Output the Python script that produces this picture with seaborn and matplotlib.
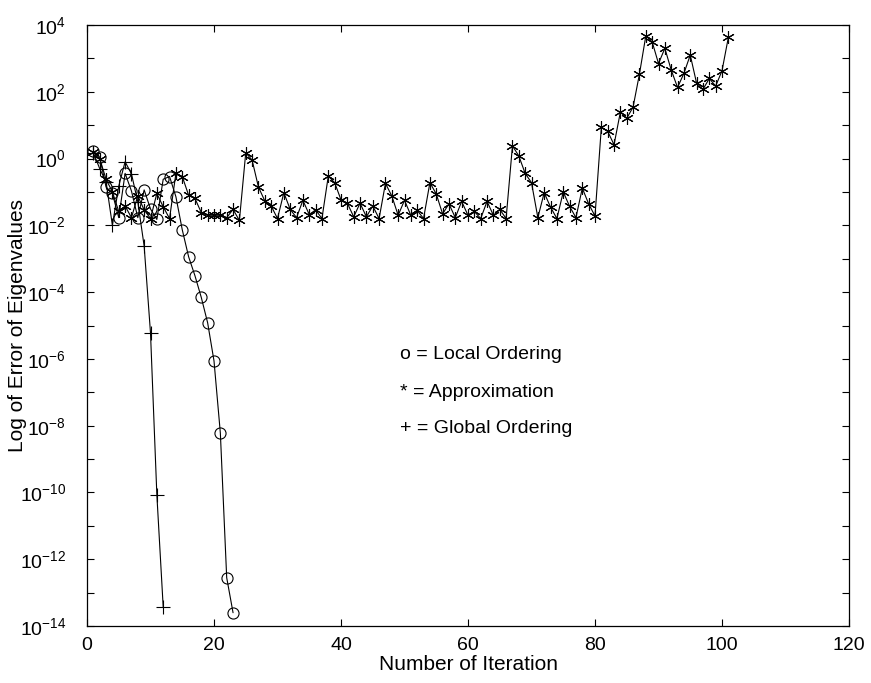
import numpy as np
import matplotlib
matplotlib.use('Agg')
import matplotlib.pyplot as plt
import seaborn as sns
from matplotlib.ticker import NullFormatter, FixedLocator

# Local ordering (o)
local_x = list(range(1, 24))
local_y = [1.7, 1.1, 0.14, 0.09, 0.017, 0.36, 0.107, 0.017, 0.115, 0.031, 0.015,
           0.24, 0.29, 0.072, 7.4e-3, 1.15e-3, 3.1e-4, 6.9e-5, 1.2e-5, 8.7e-7,
           6e-9, 2.8e-13, 2.5e-14]

# Global ordering (+)
global_x = list(range(1, 13))
global_y = [1.5, 0.5, 0.2, 0.01, 0.15, 0.8, 0.35, 0.05, 2.4e-3, 6e-6, 8.5e-11, 3.7e-14]

# Approximation (*)
approx_x = list(range(1, 102))
approx_y = [1.6, 1.0, 0.24, 0.1, 0.026, 0.038, 0.017, 0.076, 0.029, 0.016,
            0.09, 0.036, 0.016, 0.36, 0.29, 0.08, 0.064, 0.024, 0.02, 0.02,
            0.02, 0.017, 0.03, 0.014, 1.5, 0.9, 0.14, 0.054, 0.038, 0.016,
            0.095, 0.03, 0.017, 0.056, 0.021, 0.029, 0.016, 0.30, 0.19, 0.058,
            0.046, 0.018, 0.046, 0.018, 0.038, 0.016, 0.18, 0.076, 0.02, 0.056,
            0.02, 0.028, 0.016, 0.19, 0.087, 0.022, 0.044, 0.017, 0.052, 0.02,
            0.026, 0.016, 0.052, 0.02, 0.03, 0.016, 2.4, 1.2, 0.36, 0.19,
            0.017, 0.095, 0.035, 0.016, 0.1, 0.037, 0.017, 0.13, 0.044, 0.019,
            8.7, 6.5, 2.6, 25, 16, 35, 340, 4700, 3150, 700,
            2000, 450, 135, 355, 1260, 180, 118, 250, 148, 425,
            4250]

x_ticks = [0, 20, 40, 60, 80, 100, 120]
y_exponents = list(range(-14, 5, 2))

sns.set_style('ticks')
plt.rcParams['font.family'] = ['Liberation Sans', 'DejaVu Sans']
plt.rcParams['mathtext.fontset'] = 'custom'
plt.rcParams['mathtext.rm'] = 'Liberation Sans'
plt.rcParams['mathtext.it'] = 'Liberation Sans'
plt.rcParams['text.color'] = 'black'
plt.rcParams['axes.labelcolor'] = 'black'
plt.rcParams['xtick.color'] = 'black'
plt.rcParams['ytick.color'] = 'black'

fig = plt.figure(figsize=(8.71, 6.83), dpi=100)
ax = fig.add_axes([87 / 871, 1 - 626 / 683, 762 / 871, 601 / 683])

line_kw = dict(color='black', linewidth=0.8, markeredgewidth=0.8, markeredgecolor='black')
sns.lineplot(x=approx_x, y=approx_y, ax=ax, marker=(6, 2, 0), markersize=9, **line_kw)
sns.lineplot(x=local_x, y=local_y, ax=ax, marker='o', markersize=8,
             markerfacecolor='none', **line_kw)
sns.lineplot(x=global_x, y=global_y, ax=ax, marker='+', markersize=10, **line_kw)

ax.set_yscale('log')
ax.set_xlim(0, 120)
ax.set_ylim(1e-14, 1e4)
ax.set_xticks(x_ticks)
ax.set_yticks([10.0 ** e for e in y_exponents])
ax.set_yticklabels([r'$10^{%d}$' % e for e in y_exponents])
ax.yaxis.set_minor_locator(FixedLocator([10.0 ** e for e in range(-13, 4, 2)]))
ax.yaxis.set_minor_formatter(NullFormatter())
ax.tick_params(axis='both', which='both', direction='in', top=True, right=True,
               labelsize=14, length=5, width=0.8)
ax.tick_params(axis='x', which='major', pad=8)
ax.tick_params(axis='y', which='major', pad=15)
for s in ax.spines.values():
    s.set_linewidth(0.9)
    s.set_color('black')

ax.set_xlabel('Number of Iteration', fontsize=15, labelpad=1)
ax.set_ylabel('Log of Error of Eigenvalues', fontsize=15)
ax.yaxis.set_label_coords(-0.079, 0.5)

ax.text(0.411, 0.451, 'o = Local Ordering', transform=ax.transAxes, fontsize=14, va='center')
ax.text(0.411, 0.389, '* = Approximation', transform=ax.transAxes, fontsize=14, va='center')
ax.text(0.411, 0.329, '+ = Global Ordering', transform=ax.transAxes, fontsize=14, va='center')

fig.savefig('out.png', dpi=100)
